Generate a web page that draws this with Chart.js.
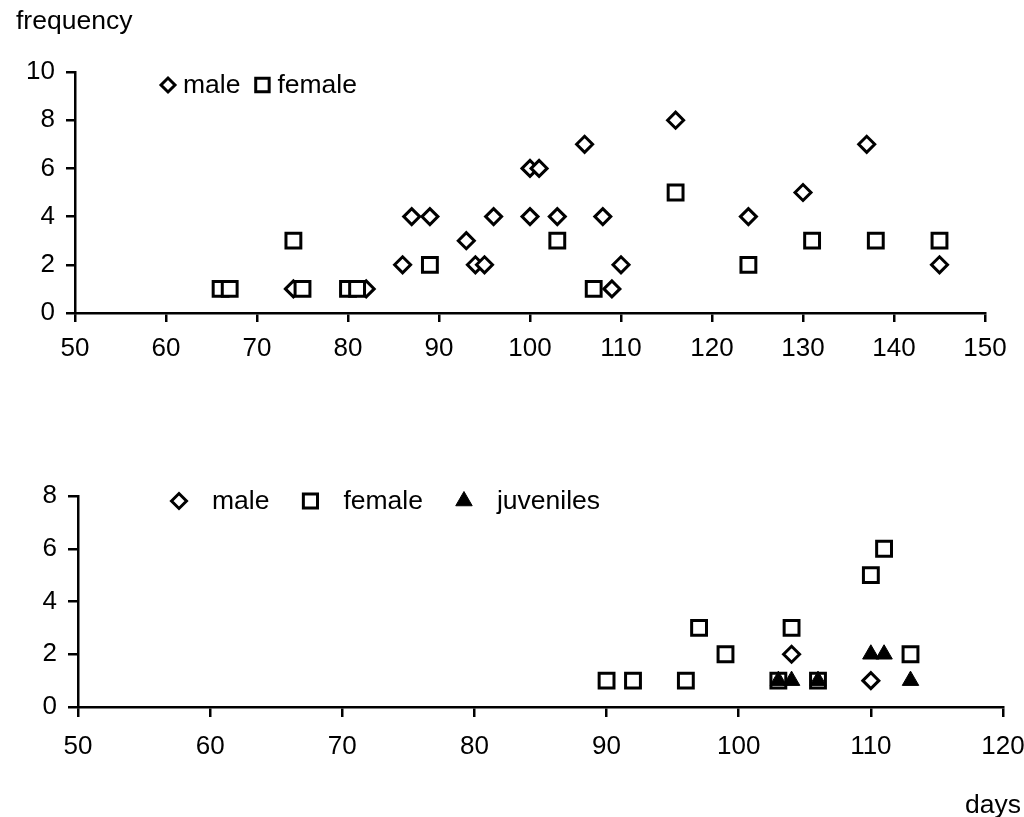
<!DOCTYPE html>
<html>
<head>
<meta charset="utf-8">
<script src="https://cdn.jsdelivr.net/npm/chart.js@4.4.0/dist/chart.umd.min.js"></script>
<style>
  body { margin: 0; background: #fff; width: 1024px; height: 817px; position: relative; overflow: hidden;
         font-family: "Liberation Sans", Arial, sans-serif; }
  canvas { position: absolute; left: 0; }
  #topChart { top: 0; }
  #bottomChart { top: 440px; }
  .label { position: absolute; font-size: 26.5px; color: #000; line-height: 30px; }
</style>
</head>
<body>
<canvas id="topChart" width="1024" height="370"></canvas>
<canvas id="bottomChart" width="1024" height="377"></canvas>
<div class="label" style="left:16px; top:5px;">frequency</div>
<div class="label" style="left:965px; top:789px;">days</div>
<script>
// upper panel (days vs frequency)
const topMaleX = [74, 82, 86, 87, 89, 93, 94, 95, 96, 100, 100, 101, 103, 106, 108, 109, 110, 116, 124, 130, 137, 145];
const topMaleY = [1, 1, 2, 4, 4, 3, 2, 2, 4, 4, 6, 6, 4, 7, 4, 1, 2, 8, 4, 5, 7, 2];
const topFemaleX = [66, 67, 74, 75, 80, 81, 89, 103, 107, 116, 124, 131, 138, 145];
const topFemaleY = [1, 1, 3, 1, 1, 1, 2, 3, 1, 5, 2, 3, 3, 3];

// lower panel
const botMaleX = [104, 110];
const botMaleY = [2, 1];
const botFemaleX = [90, 92, 96, 97, 99, 103, 104, 106, 110, 111, 113];
const botFemaleY = [1, 1, 1, 3, 2, 1, 3, 1, 5, 6, 2];
const botJuvX = [103, 104, 106, 110, 111, 113];
const botJuvY = [1, 1, 1, 2, 2, 1];

const topXTicks = [50, 150, 10];   // min, max, step
const topYTicks = [0, 10, 2];
const botXTicks = [50, 120, 10];
const botYTicks = [0, 8, 2];

function pts(xs, ys) {
    return xs.map((x, i) => ({ x: x, y: ys[i] }));
}

function markerPath(ctx, style, x, y, r) {
    ctx.beginPath();
    if (style === 'rectRot') {
        ctx.moveTo(x - r, y); ctx.lineTo(x, y - r); ctx.lineTo(x + r, y); ctx.lineTo(x, y + r);
    } else if (style === 'rect') {
        const s = Math.SQRT1_2 * r;
        ctx.rect(x - s, y - s, 2 * s, 2 * s);
    } else {
        const h = r * Math.sqrt(3) / 2;
        ctx.moveTo(x, y - r); ctx.lineTo(x + h, y + r / 2); ctx.lineTo(x - h, y + r / 2);
    }
    ctx.closePath();
}

// legend drawn inside the plot, like the original figure
const markerLegend = {
    id: 'markerLegend',
    afterDraw(chart, args, opts) {
        const ctx = chart.ctx;
        ctx.save();
        ctx.font = opts.fontSize + 'px "Liberation Sans", Arial, sans-serif';
        ctx.textBaseline = 'middle';
        let cx = opts.x;
        opts.order.forEach(i => {
            const ds = chart.data.datasets[i];
            const r = ds.legendRadius || ds.pointRadius;
            markerPath(ctx, ds.pointStyle, cx, opts.y, r);
            ctx.fillStyle = ds.pointBackgroundColor;
            ctx.fill();
            ctx.lineWidth = ds.pointBorderWidth;
            ctx.strokeStyle = '#000';
            ctx.stroke();
            ctx.fillStyle = '#000';
            const tx = cx + opts.markerToText;
            ctx.fillText(ds.label, tx, opts.y + 1);
            cx = tx + ctx.measureText(ds.label).width + opts.textToNext;
        });
        ctx.restore();
    }
};

function axis(ticks, tickLength, pad, fit) {
    return {
        type: 'linear',
        min: ticks[0],
        max: ticks[1],
        ticks: { stepSize: ticks[2], color: '#000', padding: pad,
                 font: { family: '"Liberation Sans", Arial, sans-serif', size: 26 } },
        grid: { drawOnChartArea: false, drawTicks: true, tickLength: tickLength, color: '#000', lineWidth: 2.5 },
        border: { display: true, color: '#000', width: 2.5 },
        afterFit: fit
    };
}

new Chart(document.getElementById('topChart'), {
    type: 'scatter',
    data: {
        datasets: [
            { label: 'male', data: pts(topMaleX, topMaleY), pointStyle: 'rectRot', pointRadius: 8,
              legendRadius: 7, pointBorderWidth: 3, pointBorderColor: '#000', pointBackgroundColor: '#fff', order: 1 },
            { label: 'female', data: pts(topFemaleX, topFemaleY), pointStyle: 'rect', pointRadius: 10.5,
              legendRadius: 9.5, pointBorderWidth: 3, pointBorderColor: '#000', pointBackgroundColor: '#fff', order: 0 }
        ]
    },
    options: {
        responsive: false,
        animation: false,
        events: [],
        layout: { padding: { top: 72, right: 39, left: 0, bottom: 0 } },
        scales: {
            x: axis(topXTicks, 9, 11, s => { s.height = 57; s.paddingLeft = 0; s.paddingRight = 0; }),
            y: axis(topYTicks, 9, 11, s => { s.width = 75; s.paddingTop = 0; s.paddingBottom = 0; })
        },
        plugins: {
            legend: { display: false },
            tooltip: { enabled: false },
            markerLegend: { x: 168, y: 85, fontSize: 26.5, markerToText: 15, textToNext: 22, order: [0, 1] }
        }
    },
    plugins: [markerLegend]
});

new Chart(document.getElementById('bottomChart'), {
    type: 'scatter',
    data: {
        datasets: [
            { label: 'male', data: pts(botMaleX, botMaleY), pointStyle: 'rectRot', pointRadius: 8,
              legendRadius: 7.5, pointBorderWidth: 3, pointBorderColor: '#000', pointBackgroundColor: '#fff', order: 2 },
            { label: 'female', data: pts(botFemaleX, botFemaleY), pointStyle: 'rect', pointRadius: 10.5,
              legendRadius: 10, pointBorderWidth: 3, pointBorderColor: '#000', pointBackgroundColor: '#fff', order: 1 },
            { label: 'juveniles', data: pts(botJuvX, botJuvY), pointStyle: 'triangle', pointRadius: 9.5,
              pointBorderWidth: 1, pointBorderColor: '#000', pointBackgroundColor: '#000', order: 0 }
        ]
    },
    options: {
        responsive: false,
        animation: false,
        events: [],
        layout: { padding: { top: 56, right: 21, left: 0, bottom: 0 } },
        scales: {
            x: axis(botXTicks, 10, 14, s => { s.height = 110; s.paddingLeft = 0; s.paddingRight = 0; }),
            y: axis(botYTicks, 10, 11, s => { s.width = 78; s.paddingTop = 0; s.paddingBottom = 0; })
        },
        plugins: {
            legend: { display: false },
            tooltip: { enabled: false },
            markerLegend: { x: 179, y: 61, fontSize: 26.5, markerToText: 33, textToNext: 41, order: [0, 1, 2] }
        }
    },
    plugins: [markerLegend]
});
</script>
</body>
</html>
